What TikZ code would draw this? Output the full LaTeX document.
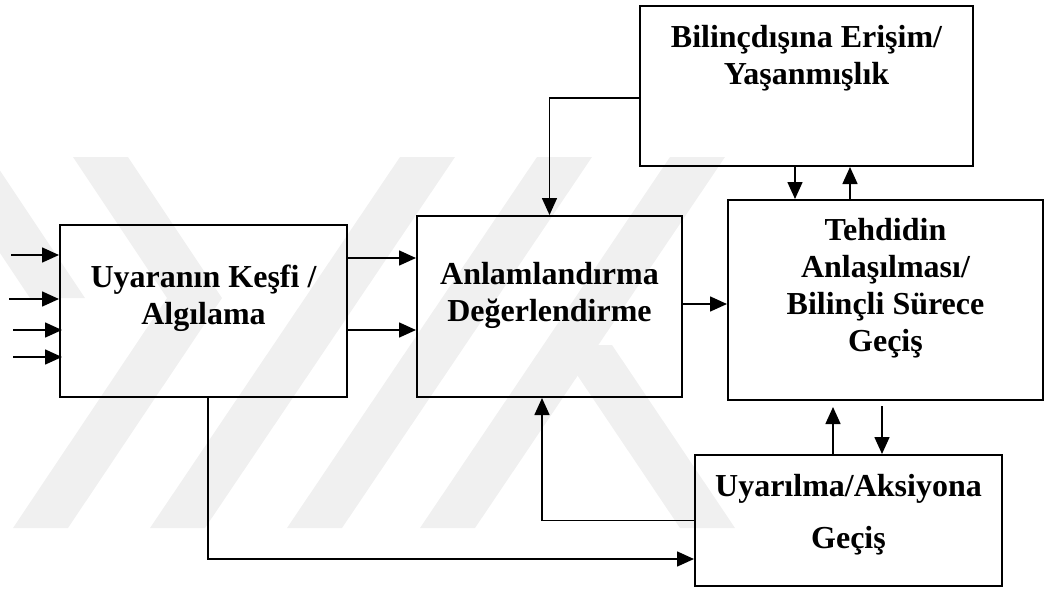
\documentclass[tikz,border=0pt]{standalone}
\usepackage{fontspec}
\setmainfont{Liberation Serif}
\usepackage{tikz}
\usetikzlibrary{arrows.meta,positioning}

\tikzset{
	box/.style={draw, rectangle, line width=2pt, inner sep=0pt},
	boxtext/.style={anchor=north, inner sep=0pt, align=center, font=\bfseries\fontsize{32}{37}\selectfont},
	arr/.style={line width=1.6pt, -{Triangle[length=17pt,width=15pt]}},
	wmark/.style={fill=black!6, draw=none}
}

\begin{document}
\begin{tikzpicture}[x=1pt,y=-1pt]
			\useasboundingbox (0,0) rectangle (1045,590);
			% watermark in the back
			\begin{scope}
			\clip (0,0) rectangle (1045,590);
			\fill[wmark] (-64,157) -- (-9,157) -- (85,298) -- (30,298) -- cycle;
			\fill[wmark] (73,157) -- (128,157) -- (222,298) -- (68,528) -- (13,528) -- (167,298) -- cycle;
			\fill[wmark] (400,157) -- (455,157) -- (205,528) -- (150,528) -- cycle;
			\fill[wmark] (537,157) -- (592,157) -- (342,528) -- (287,528) -- cycle;
			\fill[wmark] (670,157) -- (725,157) -- (475,528) -- (420,528) -- cycle;
			\fill[wmark] (557,345) -- (612,345) -- (735,528) -- (680,528) -- cycle;
			\end{scope}

			\node[box, minimum width=287, minimum height=172] (A) at (203.5,311) {};%
			\node[boxtext] (Atext) at (203.5,265) {Uyaranın Keşfi /\\Algılama};

			\node[box, minimum width=265, minimum height=181] (B) at (549.5,306.5) {};%
			\node[boxtext] (Btext) at (549.5,262) {Anlamlandırma\\Değerlendirme};

			\node[box, minimum width=333, minimum height=160] (C) at (806.5,86) {};%
			\node[boxtext] (Ctext) at (806.5,25) {Bilinçdışına Erişim/\\Yaşanmışlık};

			\node[box, minimum width=315, minimum height=200] (D) at (885.5,300) {};%
			\node[boxtext] (Dtext) at (885.5,218) {Tehdidin\\Anlaşılması/\\Bilinçli Sürece\\Geçiş};

			\node[box, minimum width=307, minimum height=131] (E) at (848.5,520.5) {};%
			\node[boxtext] (Etext) at (848.5,474) {Uyarılma/Aksiyona\\[15pt]Geçiş};

			% inputs
			\coordinate (in1) at (11,255);
			\coordinate (in2) at (9,299);
			\coordinate (in3) at (13,330);
			\coordinate (in4) at (13,357);
			\draw[arr] (in1) -- (in1 -| A.west);
			\draw[arr] (in2) -- (in2 -| A.west);
			\draw[arr, shorten >=-3pt] (in3) -- (in3 -| A.west);
			\draw[arr, shorten >=-3pt] (in4) -- (in4 -| A.west);

			\draw[arr] ([yshift=53pt]A.east) -- ([yshift=53pt]A.east -| B.west);
			\draw[arr] ([yshift=-19pt]A.east) -- ([yshift=-19pt]A.east -| B.west);
			\draw[arr] ([yshift=2.5pt]B.east) -- ([yshift=2.5pt]B.east -| D.west);

			\draw[arr] ([yshift=-12pt]C.west) -| (B.north);
			\draw[arr] ([xshift=-11.5pt]C.south) -- ([xshift=-11.5pt]C.south |- D.north);
			\draw[arr] ([xshift=43.5pt]C.south |- D.north) -- ([xshift=43.5pt]C.south);

			\draw[arr, shorten >=6pt] ([xshift=-15.5pt]E.north) -- ([xshift=-15.5pt]E.north |- D.south);
			\draw[arr, shorten <=5pt] ([xshift=33.5pt]E.north |- D.south) -- ([xshift=33.5pt]E.north);

			\draw[arr] (E.west) -| ([xshift=-7.5pt]B.south);
			\draw[arr] ([xshift=4.5pt]A.south) |- ([yshift=-38.5pt]E.west);
\end{tikzpicture}
\end{document}
